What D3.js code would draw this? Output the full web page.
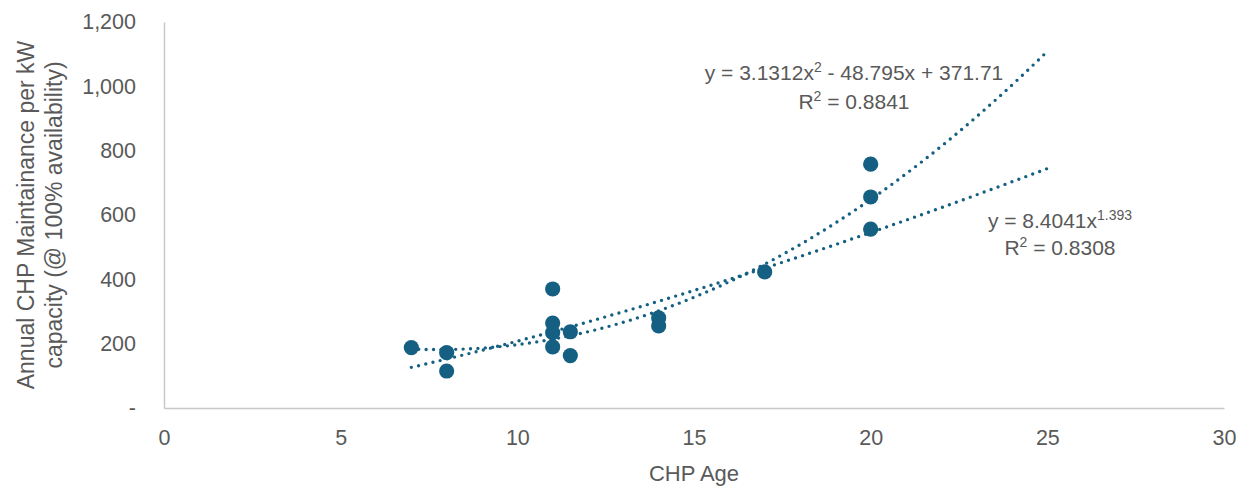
<!DOCTYPE html>
<html>
<head>
<meta charset="utf-8">
<script src="https://cdn.jsdelivr.net/npm/d3@7"></script>
<style>
  body { margin: 0; background: #fff; }
  text { font-family: "Liberation Sans", Arial, sans-serif; fill: #595959; }
</style>
</head>
<body>
<div id="chart"></div>
<script>
// CHP age vs annual maintenance cost
var ages  = [7, 8, 8, 11, 11, 11, 11, 11.5, 11.5, 14, 14, 17, 20, 20, 20];
var costs = [188, 172, 115, 370, 264, 234, 190, 237, 163, 280, 255, 423, 758, 656, 556];

// trendline equations shown on the chart
var quadCoef = [3.1312, -48.795, 371.71];   // a x^2 + b x + c
var powCoef = [8.4041, 1.393];              // a x^b
var trendRange = [7, 25];

var xTicks = [0, 5, 10, 15, 20, 25, 30];
var yTicks = [0, 200, 400, 600, 800, 1000, 1200];

var svgWidth = 1245;
var svgHeight = 486;
var margin = { top: 22, right: 21, bottom: 78, left: 164 };
var width = svgWidth - margin.left - margin.right;
var height = svgHeight - margin.top - margin.bottom;
var color = "#156082";

var svg = d3.select("#chart")
  .append("svg")
  .attr("width", svgWidth)
  .attr("height", svgHeight);

var g = svg.append("g")
  .attr("transform", "translate(" + margin.left + "," + margin.top + ")");

var xScale = d3.scaleLinear().domain([0, 30]).range([0, width]);
var yScale = d3.scaleLinear().domain([0, 1200]).range([height, 0]);

// axes: only the left and bottom lines, no tick marks
var xAxis = d3.axisBottom(xScale).tickValues(xTicks).tickSize(0).tickPadding(22);
var yAxis = d3.axisLeft(yScale).tickValues(yTicks).tickSize(0).tickPadding(28)
  .tickFormat(function(d) { return d === 0 ? "-" : d3.format(",")(d); });

var gx = g.append("g")
  .attr("transform", "translate(0," + height + ")")
  .call(xAxis);
var gy = g.append("g").call(yAxis);

[gx, gy].forEach(function(ax) {
  ax.select(".domain").attr("stroke", "#c8c8c8").attr("stroke-width", 1.5);
  ax.selectAll("text")
    .attr("fill", "#595959")
    .style("font-family", "'Liberation Sans', Arial, sans-serif")
    .style("font-size", "21.5px");
});

// trendlines
function quad(x) { return quadCoef[0] * x * x + quadCoef[1] * x + quadCoef[2]; }
function pow(x) { return powCoef[0] * Math.pow(x, powCoef[1]); }
var xs = d3.range(trendRange[0], trendRange[1] + 0.001, 0.1);

var line = d3.line()
  .x(function(d) { return xScale(d[0]); })
  .y(function(d) { return yScale(d[1]); });

[quad, pow].forEach(function(f) {
  g.append("path")
    .datum(xs.map(function(x) { return [x, f(x)]; }))
    .attr("d", line)
    .attr("fill", "none")
    .attr("stroke", color)
    .attr("stroke-width", 3.4)
    .attr("stroke-linecap", "round")
    .attr("stroke-dasharray", "0,7.4");
});

// points
g.selectAll("circle.pt")
  .data(ages)
  .enter()
  .append("circle")
  .attr("class", "pt")
  .attr("cx", function(d) { return xScale(d); })
  .attr("cy", function(d, i) { return yScale(costs[i]); })
  .attr("r", 7.6)
  .attr("fill", color);

// axis titles
svg.append("text")
  .attr("x", margin.left + width / 2)
  .attr("y", 481)
  .attr("text-anchor", "middle")
  .style("font-size", "22px")
  .text("CHP Age");

var yTitle = svg.append("text")
  .attr("transform", "translate(34," + (margin.top + height / 2) + ") rotate(-90)")
  .attr("text-anchor", "middle")
  .style("font-size", "23px");
yTitle.append("tspan").attr("x", 0).attr("y", 0).text("Annual CHP Maintainance per kW");
yTitle.append("tspan").attr("x", 0).attr("y", 28).text("capacity (@ 100% availability)");

// equation labels
function eqLabel(cx, y1, y2, parts, r2) {
  var t = svg.append("text")
    .attr("x", cx).attr("y", y1)
    .attr("text-anchor", "middle")
    .style("font-size", "21px");
  parts.forEach(function(p) {
    var s = t.append("tspan").text(p[0]);
    if (p[1]) s.attr("dy", -8).style("font-size", "14px");
    else if (p[2]) s.attr("dy", 8);
  });
  var t2 = svg.append("text")
    .attr("x", cx).attr("y", y2)
    .attr("text-anchor", "middle")
    .style("font-size", "21px");
  t2.append("tspan").text("R");
  t2.append("tspan").attr("dy", -8).style("font-size", "14px").text("2");
  t2.append("tspan").attr("dy", 8).text(" = " + r2);
}

eqLabel(854, 80, 109,
  [["y = 3.1312x"], ["2", true], [" - 48.795x + 371.71", false, true]], "0.8841");
eqLabel(1060, 228, 255,
  [["y = 8.4041x"], ["1.393", true]], "0.8308");
</script>
</body>
</html>
